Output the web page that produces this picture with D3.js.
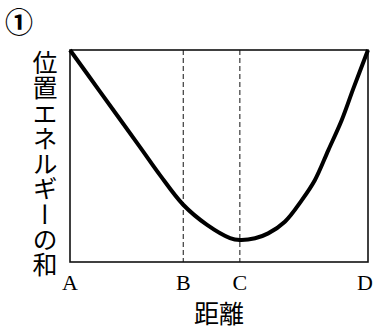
<!DOCTYPE html>
<html>
<head>
<meta charset="utf-8">
<script src="https://cdn.jsdelivr.net/npm/d3@7"></script>
<style>
    body { margin: 0; background: #fff; }
    svg { display: block; }
</style>
</head>
<body>
<div id="chart_container"></div>
<script>
// tick labels along the distance axis
let tick_labels = ['A', 'B', 'C', 'D'];
let tick_positions = [0, 38, 57, 100];
// dashed guide lines at B and C
let guide_positions = [38, 57];

// curve (distance, potential energy sum)
let curve_x = [0, 10, 23.5, 30.2, 38, 46, 53.7, 57, 62.1, 66.5, 72.1, 77.8, 82.2, 86.7, 91.2, 95.1, 100];
let curve_y = [100, 80.5, 54.2, 41, 27, 17.5, 11.3, 10.4, 11.2, 13.5, 19, 29.2, 38.7, 52.8, 67, 81.9, 100];

let y_label = '位置エネルギーの和';
let x_label = '距離';

let width = 374, height = 332;
let margin = { top: 50, right: 6, bottom: 70, left: 70 };
let inner_w = 368 - margin.left,
    inner_h = 262 - margin.top;

let svg = d3.select('#chart_container')
    .append('svg')
    .attr('width', width)
    .attr('height', height);

let x = d3.scaleLinear().domain([0, 100]).range([margin.left, margin.left + inner_w]);
let y = d3.scaleLinear().domain([0, 100]).range([margin.top + inner_h, margin.top]);

// frame
svg.append('rect')
    .attr('x', x(0))
    .attr('y', y(100))
    .attr('width', x(100) - x(0))
    .attr('height', y(0) - y(100))
    .attr('fill', 'none')
    .attr('stroke', '#111')
    .attr('stroke-width', 1.6);

// dashed guides
svg.selectAll('line.guide')
    .data(guide_positions)
    .enter()
    .append('line')
    .attr('class', 'guide')
    .attr('x1', d => x(d))
    .attr('x2', d => x(d))
    .attr('y1', y(100))
    .attr('y2', y(0))
    .attr('stroke', '#111')
    .attr('stroke-width', 1)
    .attr('stroke-dasharray', '5,3');

// the curve
let points = curve_x.map((d, i) => [d, curve_y[i]]);
let line = d3.line()
    .x(d => x(d[0]))
    .y(d => y(d[1]))
    .curve(d3.curveCatmullRom.alpha(0.5));

svg.append('path')
    .datum(points)
    .attr('d', line)
    .attr('fill', 'none')
    .attr('stroke', '#000')
    .attr('stroke-width', 4)
    .attr('stroke-linejoin', 'round');

// tick letters
svg.selectAll('text.tick')
    .data(tick_labels)
    .enter()
    .append('text')
    .attr('class', 'tick')
    .attr('x', (d, i) => x(tick_positions[i]) + (i == 3 ? -3 : 0))
    .attr('y', 290)
    .attr('text-anchor', 'middle')
    .style('font-family', '"Liberation Serif", serif')
    .style('font-size', '22px')
    .text(d => d);

// x label
svg.append('text')
    .attr('x', 219)
    .attr('y', 323)
    .attr('text-anchor', 'middle')
    .style('font-family', '"Noto Sans CJK JP", sans-serif')
    .style('font-size', '25px')
    .text(x_label);

// vertical y label
svg.append('text')
    .attr('x', 45)
    .attr('y', 50)
    .style('writing-mode', 'vertical-rl')
    .style('font-family', '"Noto Sans CJK JP", sans-serif')
    .style('font-size', '25px')
    .style('letter-spacing', '0.3px')
    .text(y_label);

// circled number
svg.append('text')
    .attr('x', 19)
    .attr('y', 33)
    .attr('text-anchor', 'middle')
    .style('font-family', '"Noto Sans CJK JP", sans-serif')
    .style('font-size', '28px')
    .style('font-weight', 'bold')
    .text('①');
</script>
</body>
</html>
